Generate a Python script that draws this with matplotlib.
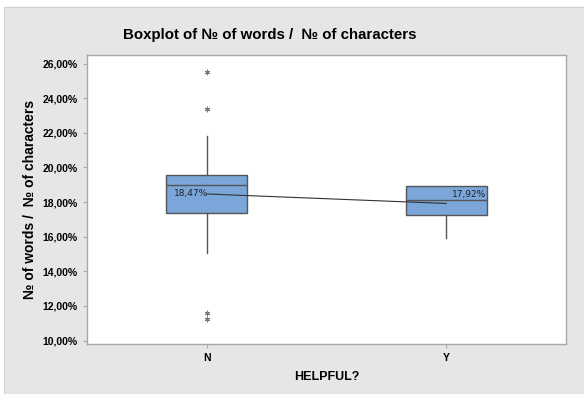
import matplotlib
matplotlib.use("Agg")
import matplotlib.pyplot as plt
from matplotlib.patches import Rectangle
from matplotlib.ticker import FuncFormatter

plt.rcParams['font.family'] = ['Liberation Sans', 'DejaVu Sans']

# Box statistics (% words / characters) per HELPFUL? group
categories = ["N", "Y"]
q1 = [17.37, 17.24]
medians = [19.01, 18.10]
q3 = [19.58, 18.91]
whisker_low = [15.07, 15.93]
whisker_high = [21.83, 18.91]
means = [18.47, 17.92]
outliers = [[25.49, 23.39, 11.62, 11.22], []]
y_ticks = [10, 12, 14, 16, 18, 20, 22, 24, 26]

W, H = 584, 394
fig = plt.figure(figsize=(W / 100, H / 100), dpi=100)
fig.patch.set_facecolor("white")
fig.patches.append(Rectangle((4 / W, 0), 1 - 4 / W, 1 - 7 / H, transform=fig.transFigure,
                             facecolor="#e6e6e6", edgecolor="#d0d0d0", lw=0.8, zorder=-10))

ax = fig.add_axes([87 / W, 1 - 344 / H, (566 - 87) / W, (344 - 55) / H])
ax.set_facecolor("white")

stats = []
for i, c in enumerate(categories):
    stats.append(dict(label=c, q1=q1[i], med=medians[i], q3=q3[i],
                      whislo=whisker_low[i], whishi=whisker_high[i],
                      mean=means[i], fliers=outliers[i]))

pos = list(range(1, len(categories) + 1))
ax.bxp(stats, positions=pos, widths=0.34, patch_artist=True, showcaps=False,
       showfliers=True, showmeans=False,
       boxprops=dict(facecolor="#7ba6d9", edgecolor="#555555", lw=1.0),
       medianprops=dict(color="#555555", lw=1.0),
       whiskerprops=dict(color="#555555", lw=1.0),
       flierprops=dict(marker=(6, 2, 0), markersize=4, markeredgecolor="#777777",
                       markeredgewidth=0.7, linestyle="none"))

# Mean connect line
ax.plot(pos, means, color="#333333", lw=0.8, zorder=5)
ax.text(pos[0] - 0.138, means[0], f"{means[0]:.2f}%".replace(".", ","),
        fontsize=6.5, color="#222222", ha="left", va="center",
        family=["DejaVu Sans"], zorder=6)
ax.text(pos[1] + 0.165, means[1] + 0.5, f"{means[1]:.2f}%".replace(".", ","),
        fontsize=6.5, color="#222222", ha="right", va="center",
        family=["DejaVu Sans"], zorder=6)

ax.set_xlim(0.5, len(categories) + 0.5)
ax.set_ylim(9.8, 26.5)
ax.set_yticks(y_ticks)
ax.yaxis.set_major_formatter(FuncFormatter(lambda v, p: f"{v:.2f}%".replace(".", ",")))
ax.set_xticks(pos)
ax.set_xticklabels(categories)

for s in ax.spines.values():
    s.set_color("#a8a8a8")
    s.set_linewidth(1.0)
ax.tick_params(axis="both", colors="#a8a8a8", length=3, width=0.8, labelcolor="black",
               labelsize=7.5)
for lbl in ax.get_yticklabels() + ax.get_xticklabels():
    lbl.set_fontweight("bold")

ax.set_xlabel("HELPFUL?", fontsize=9, fontweight="bold", labelpad=6)
ax.set_ylabel("№ of words /  № of characters", fontsize=10, fontweight="bold", labelpad=4)
fig.text(270 / W, 1 - 35 / H, "Boxplot of № of words /  № of characters",
         ha="center", va="center", fontsize=10.8, fontweight="bold")

fig.savefig("out.png", dpi=100)
